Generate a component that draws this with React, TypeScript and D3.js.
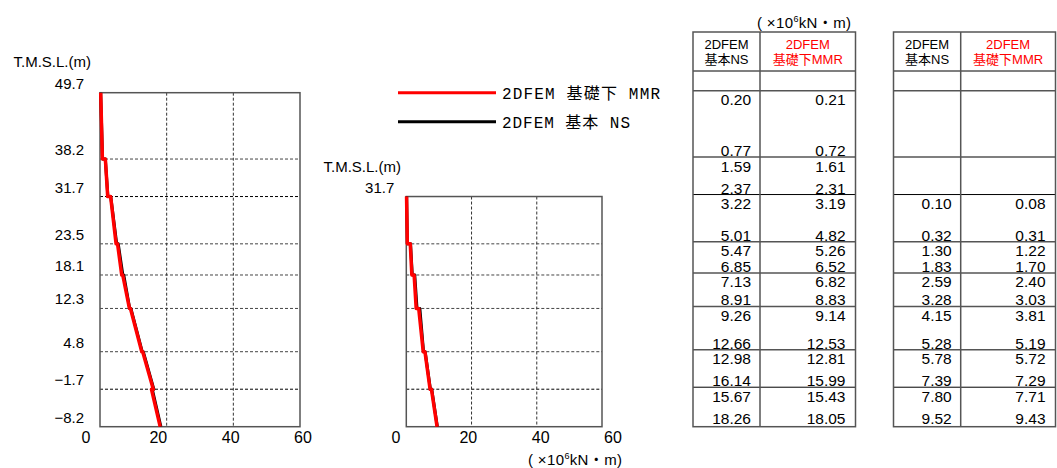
import React from 'react';
import * as d3 from 'd3';

// ---- data ----
const levels = [49.7, 38.2, 31.7, 23.5, 18.1, 12.3, 4.8, -1.7, -8.2];
const levelLabels = ['49.7', '38.2', '31.7', '23.5', '18.1', '12.3', '4.8', '\u22121.7', '\u22128.2'];
const xTicks = [0, 20, 40, 60];

// left chart (full height) element top/bottom values
const nsLeftTop = [0.20, 1.59, 3.22, 5.47, 7.13, 9.26, 12.98, 15.67];
const nsLeftBot = [0.77, 2.37, 5.01, 6.85, 8.91, 12.66, 16.14, 18.26];
const mmrLeftTop = [0.21, 1.61, 3.19, 5.26, 6.82, 9.14, 12.81, 15.43];
const mmrLeftBot = [0.72, 2.31, 4.82, 6.52, 8.83, 12.53, 15.99, 18.05];

// middle chart (from 31.7) element top/bottom values
const nsRightTop = [0.10, 1.30, 2.59, 4.15, 5.78, 7.80];
const nsRightBot = [0.32, 1.83, 3.28, 5.28, 7.39, 9.52];
const mmrRightTop = [0.08, 1.22, 2.40, 3.81, 5.72, 7.71];
const mmrRightBot = [0.31, 1.70, 3.03, 5.19, 7.29, 9.43];

const legendItems = [
  { label: '2DFEM 基礎下 MMR', color: '#ff0000' },
  { label: '2DFEM 基本 NS', color: '#000000' },
];
const majorLevels = [31.7, -1.7];

// ---- styling ----
const FONT = '"Liberation Sans", Arial, "Noto Sans CJK JP", sans-serif';
const LFONT = '"Liberation Mono", "Noto Sans CJK JP", monospace';
const W = 1057, H = 468;

const yScale = d3.scaleLinear().domain([-8.2, 49.7]).range([426.7, 92.7]);

function profile(lv: number[], tops: number[], bots: number[]): [number, number][] {
  const pts: [number, number][] = [];
  tops.forEach((t, i) => {
    pts.push([t, lv[i]]);
    pts.push([bots[i], lv[i + 1]]);
  });
  return pts;
}

function Chart(props: {
  xs: d3.ScaleLinear<number, number>;
  ls: d3.ScaleLinear<number, number>;
  lv: number[];
  labels: string[];
  showAllLabels: boolean;
  title: [number, number];
  ns: [number, number][];
  mmr: [number, number][];
}) {
  const { xs, ls, lv, labels, showAllLabels, title, ns, mmr } = props;
  const x0 = xs.range()[0], x1 = xs.range()[1];
  const yTop = yScale(lv[0]), yBot = yScale(lv[lv.length - 1]);
  const line = d3.line<[number, number]>().x(d => xs(d[0])).y(d => yScale(d[1]));
  return (
    <g>
      <text x={title[0]} y={title[1]} fontSize={15} fontFamily={FONT} textAnchor="end">T.M.S.L.(m)</text>
      {lv.map((l, i) => (showAllLabels || i === 0) ? (
        <text key={'yl' + i} x={x0 - (showAllLabels ? 16 : 12)} y={yScale(l) - 4} fontSize={15} fontFamily={FONT} textAnchor="end">{labels[i]}</text>
      ) : null)}
      {lv.slice(1, -1).map((l, i) => (
        <line key={'hg' + i} x1={x0} x2={x1} y1={yScale(l)} y2={yScale(l)}
          stroke={majorLevels.includes(l) ? '#000' : '#444'} strokeWidth={1} strokeDasharray="3,2" />
      ))}
      {xTicks.slice(1, -1).map((t, i) => (
        <line key={'vg' + i} x1={xs(t)} x2={xs(t)} y1={yTop} y2={yBot} stroke="#333" strokeWidth={1} strokeDasharray="3,2" />
      ))}
      <rect x={x0} y={yTop} width={x1 - x0} height={yBot - yTop} fill="none" stroke="#555" strokeWidth={1.5} />
      {xTicks.map((t, i) => (
        <text key={'xl' + i} x={ls(t)} y={443} fontSize={16} fontFamily={FONT} textAnchor="middle">{t}</text>
      ))}
      <path d={line(ns) || ''} fill="none" stroke="#000" strokeWidth={3} strokeLinejoin="round" />
      <path d={line(mmr) || ''} fill="none" stroke="#ff0000" strokeWidth={3.5} strokeLinejoin="round" />
    </g>
  );
}

function Table(props: {
  x0: number; x1: number; x2: number; skip: number;
  nsTop: number[]; nsBot: number[]; mmrTop: number[]; mmrBot: number[];
}) {
  const { x0, x1, x2, skip, nsTop, nsBot, mmrTop, mmrBot } = props;
  const top = 32, headBot = 71;
  const yb = yScale(levels[levels.length - 1]);
  return (
    <g fontFamily={FONT}>
      <text x={(x0 + x1) / 2} y={48.5} fontSize={13} textAnchor="middle">2DFEM</text>
      <text x={(x0 + x1) / 2} y={63.5} fontSize={13} textAnchor="middle">基本NS</text>
      <text x={(x1 + x2) / 2} y={48.5} fontSize={13} textAnchor="middle" fill="#ff0000">2DFEM</text>
      <text x={(x1 + x2) / 2} y={63.5} fontSize={13} textAnchor="middle" fill="#ff0000">基礎下MMR</text>
      <line x1={x0} x2={x2} y1={headBot} y2={headBot} stroke="#555" strokeWidth={1.5} />
      {levels.slice(0, -1).map((l, i) => (
        <line key={'tl' + i} x1={x0} x2={x2} y1={yScale(l) - 2} y2={yScale(l) - 2}
          stroke={majorLevels.includes(l) ? '#000' : '#555'} strokeWidth={majorLevels.includes(l) ? 1 : 1.5} />
      ))}
      <line x1={x1} x2={x1} y1={top} y2={yb} stroke="#555" strokeWidth={1.5} />
      <rect x={x0} y={top} width={x2 - x0} height={yb - top} fill="none" stroke="#555" strokeWidth={1.5} />
      {nsTop.map((v, i) => {
        const lt = yScale(levels[i + skip]) - 2;
        const lb = yScale(levels[i + skip + 1]) - 2;
        return (
          <g key={'r' + i} fontSize={15.5} textAnchor="end">
            <text x={x1 - 9} y={lt + 14.5}>{v.toFixed(2)}</text>
            <text x={x1 - 9} y={lb - 1}>{nsBot[i].toFixed(2)}</text>
            <text x={x2 - 10} y={lt + 14.5}>{mmrTop[i].toFixed(2)}</text>
            <text x={x2 - 10} y={lb - 1}>{mmrBot[i].toFixed(2)}</text>
          </g>
        );
      })}
    </g>
  );
}

function Unit({ x, y }: { x: number; y: number }) {
  return (
    <text x={x} y={y} fontSize={15} fontFamily={FONT} textLength={94} lengthAdjust="spacing">
      ( ×10<tspan fontSize={9} dy={-6}>6</tspan><tspan dy={6}>kN・m)</tspan>
    </text>
  );
}

export default function App() {
  const xLeft = d3.scaleLinear().domain([0, 60]).range([100, 300]);
  const lLeft = d3.scaleLinear().domain([0, 60]).range([86, 303]);
  const xMid = d3.scaleLinear().domain([0, 60]).range([406.3, 602]);
  const lMid = d3.scaleLinear().domain([0, 60]).range([396, 613]);
  const midLevels = levels.slice(2);
  const midLabels = levelLabels.slice(2);
  return (
    <svg width={W} height={H} style={{ position: 'absolute', left: 0, top: 0, background: '#fff' }}>
      <rect width={W} height={H} fill="#fff" />
      <Chart xs={xLeft} ls={lLeft} lv={levels} labels={levelLabels} showAllLabels={true} title={[91, 67]}
        ns={profile(levels, nsLeftTop, nsLeftBot)} mmr={profile(levels, mmrLeftTop, mmrLeftBot)} />
      <Chart xs={xMid} ls={lMid} lv={midLevels} labels={midLabels} showAllLabels={false} title={[401, 172]}
        ns={profile(midLevels, nsRightTop, nsRightBot)} mmr={profile(midLevels, mmrRightTop, mmrRightBot)} />
      <Unit x={528} y={465} />
      {legendItems.map((it, i) => (
        <g key={'lg' + i}>
          <line x1={398} x2={496} y1={92.7 + i * 29} y2={92.7 + i * 29} stroke={it.color} strokeWidth={3} />
          <text x={502} y={98.5 + i * 29} fontSize={16} fontFamily={LFONT}
            textLength={i === 0 ? 158 : 128} lengthAdjust="spacing">{it.label}</text>
        </g>
      ))}
      <Unit x={757} y={28} />
      <Table x0={693} x1={760} x2={855.5} skip={0} nsTop={nsLeftTop} nsBot={nsLeftBot} mmrTop={mmrLeftTop} mmrBot={mmrLeftBot} />
      <Table x0={893.5} x1={960.7} x2={1055.5} skip={2} nsTop={nsRightTop} nsBot={nsRightBot} mmrTop={mmrRightTop} mmrBot={mmrRightBot} />
    </svg>
  );
}
